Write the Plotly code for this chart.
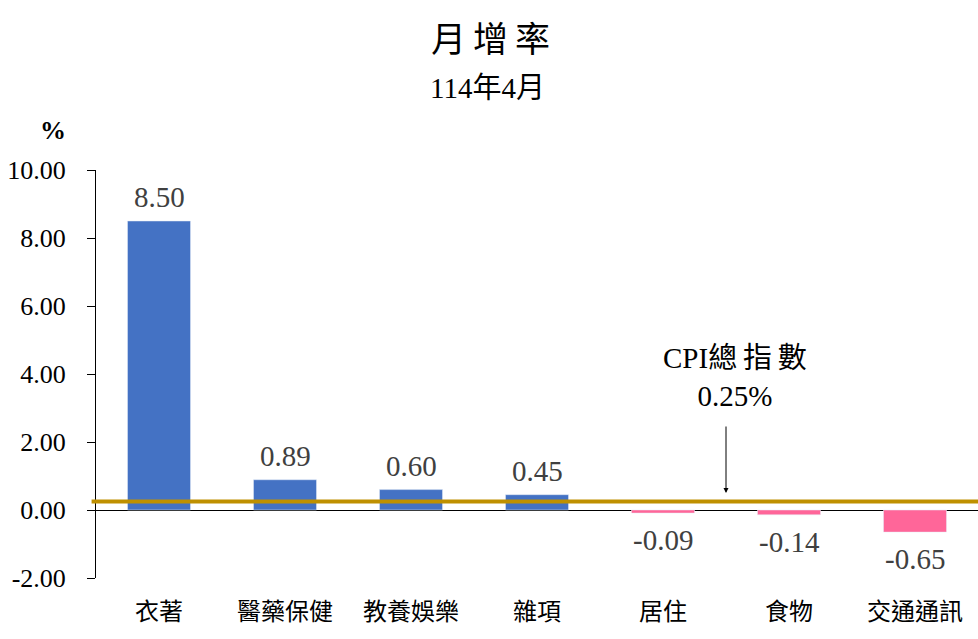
import plotly.graph_objects as go

categories = ["衣著", "醫藥保健", "教養娛樂", "雜項", "居住", "食物", "交通通訊"]
values = [8.50, 0.89, 0.60, 0.45, -0.09, -0.14, -0.65]
cpi_total = 0.25
y_ticks = [-2, 0, 2, 4, 6, 8, 10]
y_tick_labels = ["-2.00", "0.00", "2.00", "4.00", "6.00", "8.00", "10.00"]
title_text = "月增率"
subtitle_text = "114年4月"

FONT = "Liberation Serif, Times New Roman, Noto Sans CJK TC, serif"
colors = ["#4472C4" if v >= 0 else "#FF6699" for v in values]

fig = go.Figure()
fig.add_trace(go.Bar(
    x=categories, y=values, marker_color=colors, width=0.5,
    cliponaxis=False, showlegend=False, hoverinfo="x+y",
))

fig.add_shape(type="line", xref="paper", yref="y", x0=-0.005, x1=1,
              y0=cpi_total, y1=cpi_total, line=dict(color="#BF9000", width=4))

annotations = []
for c, v in zip(categories, values):
    annotations.append(dict(
        x=c, y=v, xref="x", yref="y", showarrow=False, yanchor="middle",
        yshift=24 if v >= 0 else -27, text=f"{v:.2f}",
        font=dict(family=FONT, size=29, color="#404040")))

annotations += [
    dict(x=4.5, y=0.5, ax=4.5, ay=2.5, xref="x", yref="y", axref="x", ayref="y",
         showarrow=True, arrowhead=2, arrowsize=1, arrowwidth=1, arrowcolor="#000000", text=""),
    dict(x=4.57, y=3.9, xref="x", yref="y", showarrow=False, yanchor="middle",
         text=f"CPI總\u2009指\u2009數<br>{cpi_total:.2f}%", align="center",
         font=dict(family=FONT, size=29, color="#000000")),
    dict(xref="paper", yref="paper", x=(53 - 96) / 882, xanchor="center",
         y=(639 - 131 - 61) / 408, yanchor="middle",
         text="<b>%</b>", showarrow=False, font=dict(family=FONT, size=26, color="#000000")),
    dict(xref="paper", yref="paper", x=(490 - 96) / 882, xanchor="center",
         y=(639 - 40 - 61) / 408,
         yanchor="middle", text="\u2009".join(title_text), showarrow=False,
         font=dict(family=FONT, size=35, color="#000000")),
    dict(xref="paper", yref="paper", x=(487 - 96) / 882, xanchor="center",
         y=(639 - 88 - 61) / 408,
         yanchor="middle", text=subtitle_text, showarrow=False,
         font=dict(family=FONT, size=29, color="#000000")),
]

fig.update_layout(
    width=978, height=639,
    margin=dict(l=96, r=0, t=170, b=61),
    plot_bgcolor="white", paper_bgcolor="white",
    font=dict(family=FONT, color="#000000"),
    annotations=annotations,
    bargap=0.5,
)
fig.update_yaxes(range=[-2, 10], tickvals=y_ticks, ticktext=y_tick_labels,
                 showgrid=False, showline=True, linecolor="#000000", linewidth=1,
                 ticks="outside", ticklen=8, tickcolor="#000000",
                 zeroline=True, zerolinecolor="#000000", zerolinewidth=1,
                 tickfont=dict(family=FONT, size=26, color="#000000"),
                 ticklabelstandoff=16, automargin=False)
fig.update_xaxes(showgrid=False, showline=False, ticks="", range=[-0.5, 6.5],
                 tickfont=dict(family=FONT, size=24, color="#000000"),
                 ticklabelstandoff=17, automargin=False)

fig.write_html("out.html", config={"displayModeBar": False},
               post_script="document.body.style.margin='0';document.body.style.overflow='hidden';")
